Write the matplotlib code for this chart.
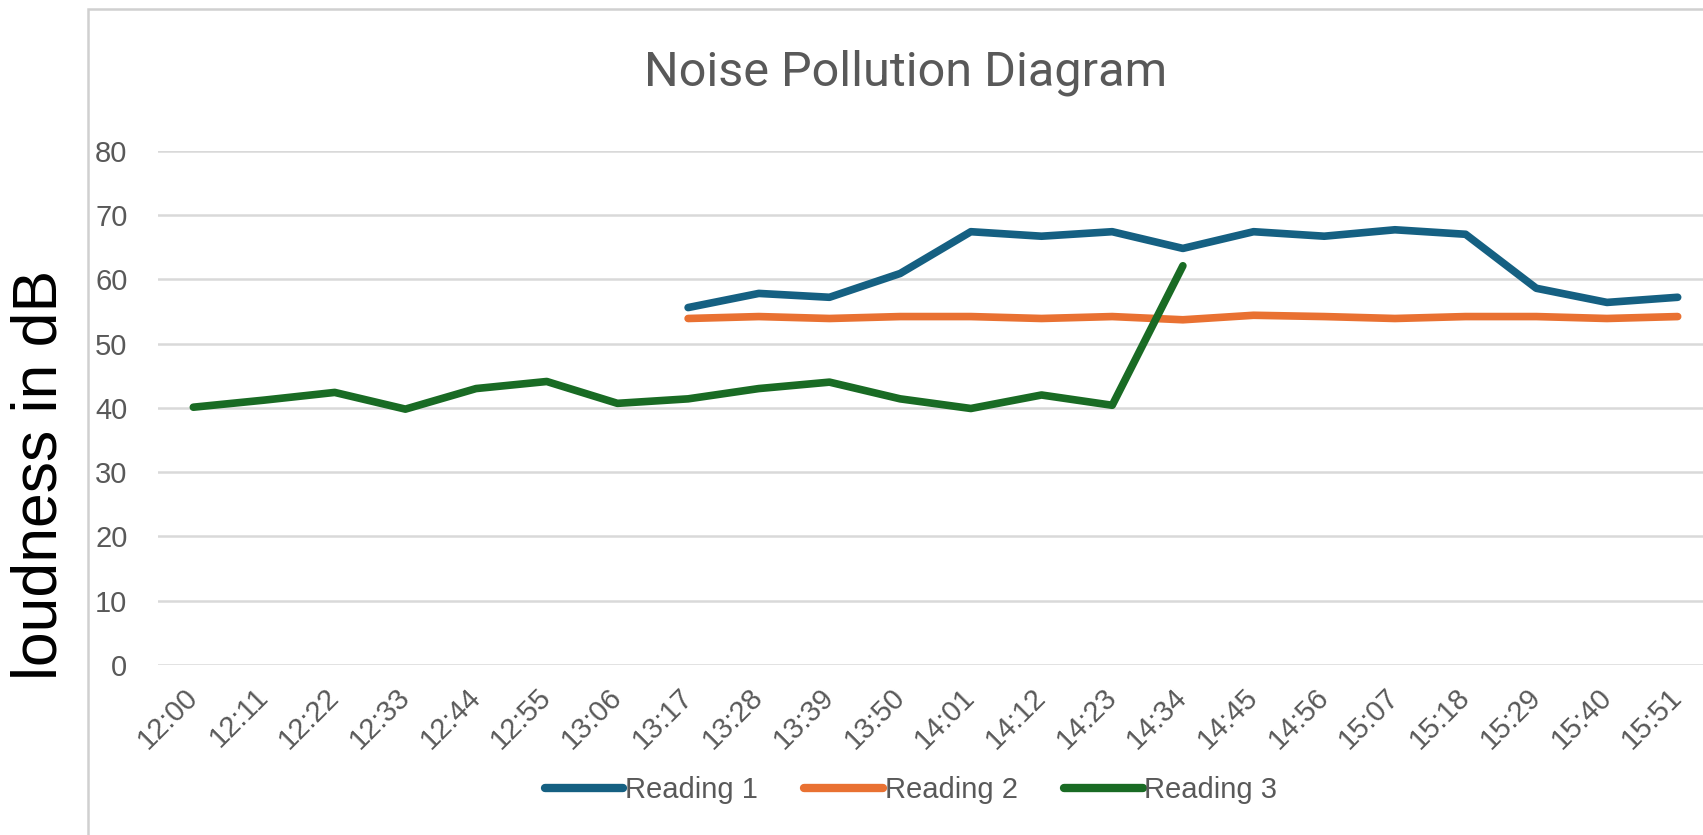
import numpy as np
import matplotlib.pyplot as plt
from matplotlib.patches import Rectangle

# data
times = ['12:00', '12:11', '12:22', '12:33', '12:44', '12:55', '13:06', '13:17',
         '13:28', '13:39', '13:50', '14:01', '14:12', '14:23', '14:34', '14:45',
         '14:56', '15:07', '15:18', '15:29', '15:40', '15:51']

# reading 1 and 2 start at 13:17
reading1 = [55.6, 57.8, 57.2, 60.9, 67.4, 66.7, 67.4, 64.8,
            67.4, 66.7, 67.7, 67.0, 58.6, 56.4, 57.2]
reading2 = [53.9, 54.2, 53.9, 54.2, 54.2, 53.9, 54.2, 53.7,
            54.4, 54.2, 53.9, 54.2, 54.2, 53.9, 54.2]
# reading 3 stops at 14:34
reading3 = [40.1, 41.2, 42.4, 39.8, 43.0, 44.1, 40.7, 41.4,
            43.0, 44.0, 41.4, 39.9, 42.0, 40.4, 62.1]

labels = ['Reading 1', 'Reading 2', 'Reading 3']
colors = ['#156082', '#E97132', '#196B24']

W, H = 1703, 835
fig = plt.figure(figsize=(W / 100, H / 100), dpi=100)

# chart area border (only left and top visible, rest is cropped)
fig.add_artist(Rectangle((88 / W, -0.1), 1.2, 1 - 9 / H + 0.1, transform=fig.transFigure,
                         fill=False, edgecolor='#d0d0d0', lw=1.8))

# plot area runs a bit past the right edge of the image
left, right = 158, 1713
top, bottom = 150.7, 665
ax = fig.add_axes([left / W, 1 - bottom / H, (right - left) / W, (bottom - top) / H])

x = np.arange(len(times))
start12 = times.index('13:17')
x1 = x[start12:start12 + len(reading1)]
x3 = x[:len(reading3)]

for xs, ys, lab, col in zip([x1, x1, x3], [reading1, reading2, reading3], labels, colors):
    ax.plot(xs, ys, color=col, lw=5.5, label=lab, solid_capstyle='round',
            solid_joinstyle='round', zorder=3)

ax.set_xlim(-0.5, len(times) - 0.5)
ax.set_ylim(0, 80)
ax.set_yticks(np.arange(0, 81, 10))
ax.set_xticks(x)
ax.set_xticklabels(times, rotation=45, ha='right', va='center', rotation_mode='anchor')
ax.grid(axis='y', color='#d9d9d9', lw=1.8)
ax.set_axisbelow(True)
for s in ax.spines.values():
    s.set_visible(False)
ax.tick_params(axis='both', length=0, labelsize=21, labelcolor='#595959',
               labelfontfamily='Liberation Sans')
ax.tick_params(axis='y', pad=22)
ax.tick_params(axis='x', pad=20)

fig.text(906 / W, 1 - 86 / H, 'Noise Pollution Diagram', ha='center', va='baseline',
         fontsize=35, color='#595959', family='Roboto')
fig.text(40 / W, 1 - 475 / H, 'loudness in dB', rotation=90, ha='center', va='center',
         fontsize=45, color='black', family='Liberation Sans')

leg = fig.legend(loc='center', bbox_to_anchor=(911 / W, 1 - 790 / H), ncol=3,
                 frameon=False, handlelength=2.7, handletextpad=0.05, columnspacing=1.6,
                 prop={'family': 'Liberation Sans', 'size': 21})
for t in leg.get_texts():
    t.set_color('#595959')
for h in leg.get_lines():
    h.set_linewidth(6)
    h.set_solid_capstyle('round')

fig.savefig('out.png', dpi=100)
